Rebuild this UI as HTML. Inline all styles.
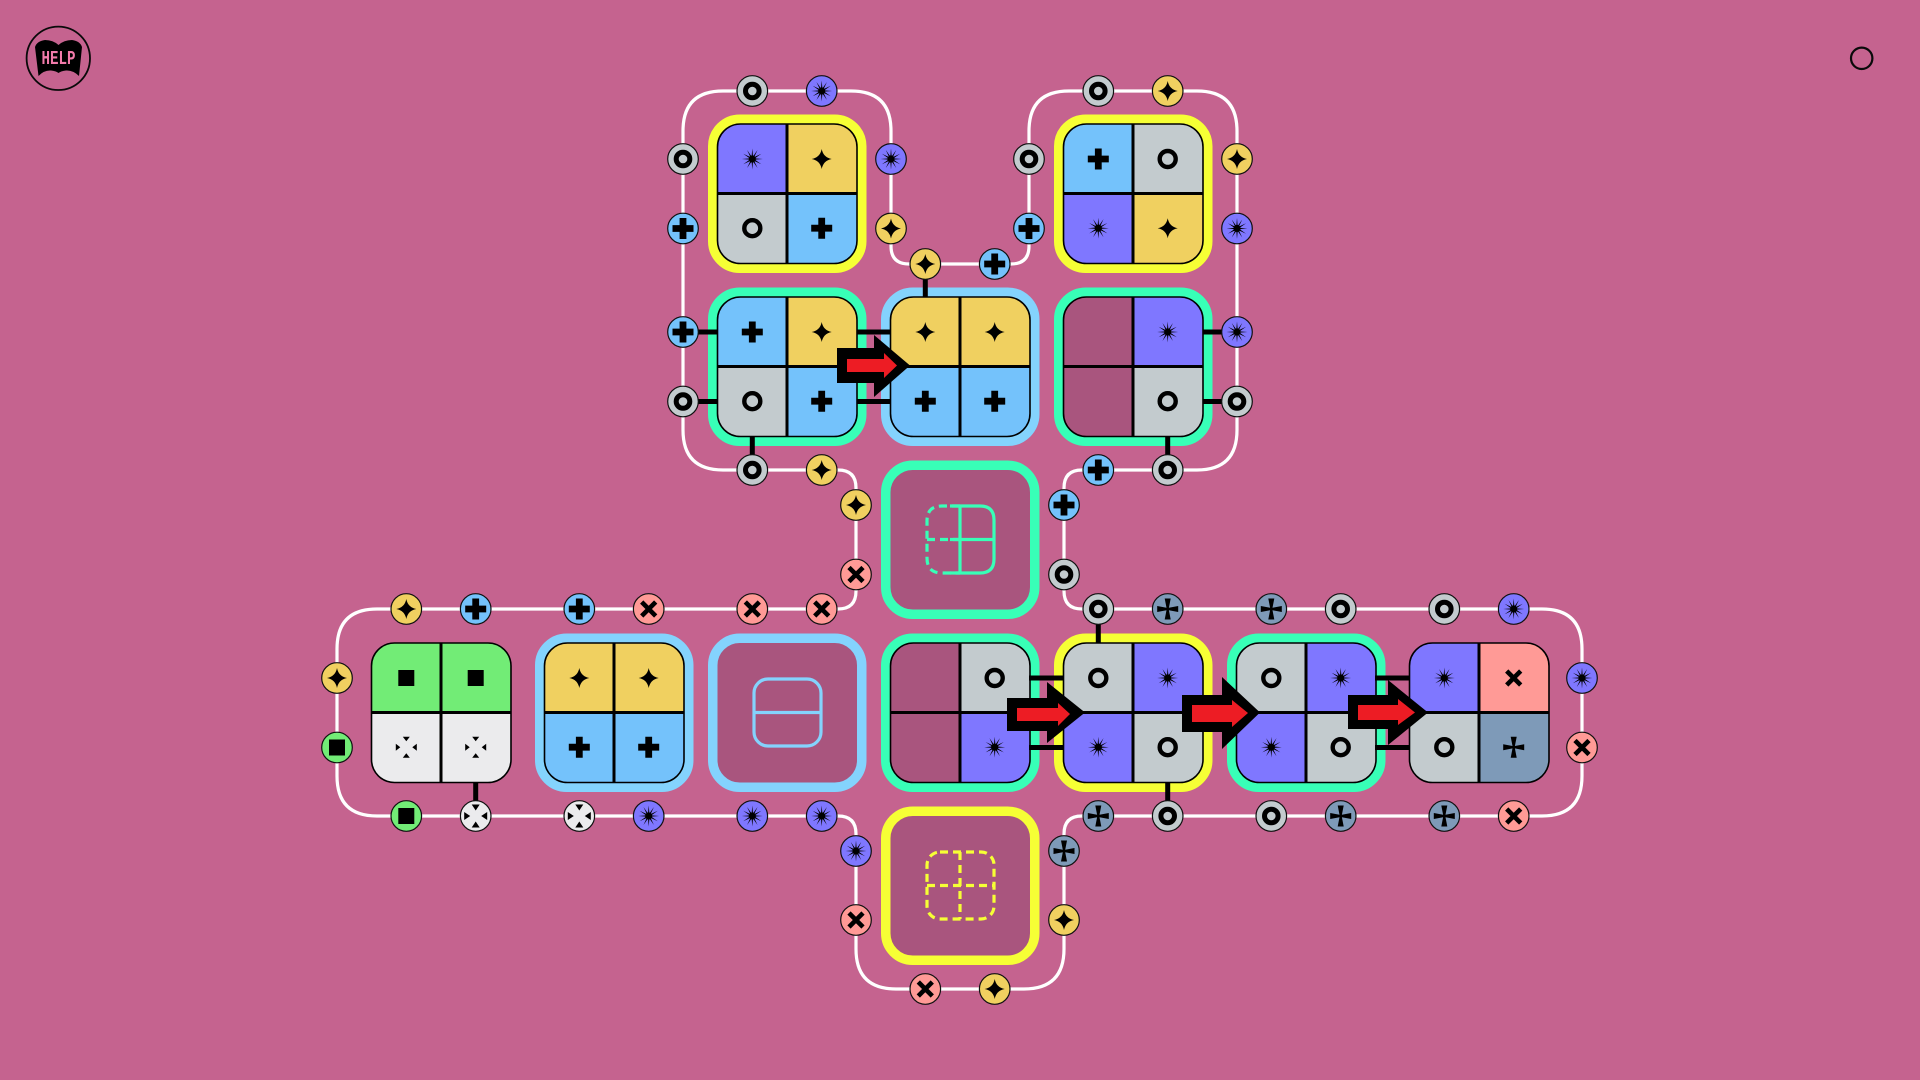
<!DOCTYPE html>
<html><head><meta charset="utf-8"><title>Diagram</title>
<style>html,body{margin:0;padding:0;background:#c5638f;width:1920px;height:1080px;overflow:hidden}svg{display:block}</style></head>
<body>
<svg xmlns="http://www.w3.org/2000/svg" width="1920" height="1080" viewBox="0 0 1920 1080">
<defs>
<clipPath id="c"><rect x="9.5" y="9.5" width="139.5" height="139.5" rx="23"/></clipPath>
<g id="is"><polygon transform="scale(1.1)" points="9.5,0 2.32,.62 8.23,4.75 1.7,1.7 4.75,8.23 .62,2.32 0,9.5 -.62,2.32 -4.75,8.23 -1.7,1.7 -8.23,4.75 -2.32,.62 -9.5,0 -2.32,-.62 -8.23,-4.75 -1.7,-1.7 -4.75,-8.23 -.62,-2.32 0,-9.5 .62,-2.32 4.75,-8.23 1.7,-1.7 8.23,-4.75 2.32,-.62"/><circle r="3.6"/></g>
<path id="id" d="M0-10Q1.600-1.600 10 0Q1.600 1.600 0 10Q-1.600 1.600-10 0Q-1.600-1.600 0-10Z"/>
<circle id="ir" r="8" fill="none" stroke="#000" stroke-width="4.4"/>
<path id="ip" d="M-3.4-10.5H3.4V-3.4H10.5V3.4H3.4V10.5H-3.4V3.4H-10.5V-3.4H-3.4Z"/>
<rect id="iq" x="-8" y="-8" width="16" height="16"/>
<path id="ix" d="M-7-7L7 7M7-7L-7 7" stroke="#000" stroke-width="4.6" fill="none"/>
<path id="ic" d="M1.200-1.200L3-10.5H-3L-1.200-1.200L-10.5-3V3L-1.200 1.200L-3 10.5H3L1.200 1.200L10.5 3V-3Z"/>
<path id="ia" d="M-3.5-10.5H3.5L0-6ZM-3.5 10.5H3.5L0 6ZM-10.5-3.5V3.5L-6 0ZM10.5-3.5V3.5L6 0Z"/>
<path id="ib" d="M-4-11.5H4L0-5.5ZM-4 11.5H4L0 5.5ZM-11.5-4V4L-5.5 0ZM11.5-4V4L5.5 0Z"/>
<g id="ns"><circle r="15.3" fill="#7f77ff" stroke="#111" stroke-width="1.2"/><use href="#is"/></g>
<g id="nd"><circle r="15.3" fill="#f0d060" stroke="#111" stroke-width="1.2"/><use href="#id"/></g>
<g id="nr"><circle r="15.3" fill="#c3cbce" stroke="#111" stroke-width="1.2"/><circle r="6.800" fill="none" stroke="#000" stroke-width="5"/></g>
<g id="np"><circle r="15.3" fill="#74c2fb" stroke="#111" stroke-width="1.2"/><use href="#ip"/></g>
<g id="nq"><circle r="15.3" fill="#72ec76" stroke="#111" stroke-width="1.2"/><use href="#iq"/></g>
<g id="nx"><circle r="15.3" fill="#ff9a96" stroke="#111" stroke-width="1.2"/><use href="#ix"/></g>
<g id="nc"><circle r="15.3" fill="#7e9ab8" stroke="#111" stroke-width="1.2"/><use href="#ic"/></g>
<g id="na"><circle r="15.3" fill="#ebebed" stroke="#111" stroke-width="1.2"/><use href="#ib"/></g>
<g id="grid"><path d="M79 9.5V149M9.5 79H149" stroke="#000" stroke-width="3" fill="none"/><rect x="9.5" y="9.5" width="139.5" height="139.5" rx="23" fill="none" stroke="#000" stroke-width="1.6"/></g>
</defs>
<rect width="1920" height="1080" fill="#c5638f"/>

<!-- help -->
<circle cx="58.3" cy="58.3" r="31.7" fill="none" stroke="#0a0a0a" stroke-width="1.8"/>
<path d="M35 47Q37 41 45 40Q53 40 58.500 45Q64 40 72 40Q80 41 82 47L79 76Q73 70 66 70.500Q61 71 58.500 73Q56 71 51 70.500Q44 70 38.500 76Z" fill="#000"/>
<text x="58.500" y="64" text-anchor="middle" font-family="'Liberation Mono',monospace" font-weight="bold" font-size="19" textLength="34" lengthAdjust="spacingAndGlyphs" fill="#f27bab">HELP</text>
<circle cx="1861.700" cy="58.300" r="10.700" fill="none" stroke="#0a0a0a" stroke-width="2.200"/>

<!-- white loop -->
<path d="M723 91H851Q891 91 891 131V246Q891 264 909 264H1011Q1029 264 1029 246V131Q1029 91 1069 91H1197Q1237 91 1237 131V430Q1237 470 1197 470H1082Q1064 470 1064 488V591Q1064 609 1082 609H1542Q1582 609 1582 649V776Q1582 816 1542 816H1082Q1064 816 1064 834V949Q1064 989 1024 989H896Q856 989 856 949V834Q856 816 838 816H377Q337 816 337 776V649Q337 609 377 609H838Q856 609 856 591V488Q856 470 838 470H723Q683 470 683 430V131Q683 91 723 91Z" fill="none" stroke="#fff" stroke-width="3.200"/>

<!-- tiles -->
<g transform="translate(708,114.500)">
<rect x="4.750" y="4.750" width="149" height="149" rx="27" fill="none" stroke="#f6ff35" stroke-width="9.500"/>
<g clip-path="url(#c)"><rect x="9" y="9" width="70" height="70" fill="#7f77ff"/><rect x="79" y="9" width="71" height="70" fill="#f0d060"/><rect x="9" y="79" width="70" height="71" fill="#c3cbce"/><rect x="79" y="79" width="71" height="71" fill="#74c2fb"/></g>
<use href="#grid"/><use href="#is" x="44.300" y="44.500"/><use href="#id" x="113.700" y="44.500"/><use href="#ir" x="44.300" y="113.700"/><use href="#ip" x="113.700" y="113.700"/>
</g>
<g transform="translate(1054,114.500)">
<rect x="4.750" y="4.750" width="149" height="149" rx="27" fill="none" stroke="#f6ff35" stroke-width="9.500"/>
<g clip-path="url(#c)"><rect x="9" y="9" width="70" height="70" fill="#74c2fb"/><rect x="79" y="9" width="71" height="70" fill="#c3cbce"/><rect x="9" y="79" width="70" height="71" fill="#7f77ff"/><rect x="79" y="79" width="71" height="71" fill="#f0d060"/></g>
<use href="#grid"/><use href="#ip" x="44.300" y="44.500"/><use href="#ir" x="113.700" y="44.500"/><use href="#is" x="44.300" y="113.700"/><use href="#id" x="113.700" y="113.700"/>
</g>
<g transform="translate(708,287.500)">
<rect x="4.750" y="4.750" width="149" height="149" rx="27" fill="none" stroke="#38ffb7" stroke-width="9.500"/>
<g clip-path="url(#c)"><rect x="9" y="9" width="70" height="70" fill="#74c2fb"/><rect x="79" y="9" width="71" height="70" fill="#f0d060"/><rect x="9" y="79" width="70" height="71" fill="#c3cbce"/><rect x="79" y="79" width="71" height="71" fill="#74c2fb"/></g>
<use href="#grid"/><use href="#ip" x="44.300" y="44.500"/><use href="#id" x="113.700" y="44.500"/><use href="#ir" x="44.300" y="113.700"/><use href="#ip" x="113.700" y="113.700"/>
</g>
<g transform="translate(881,287.500)">
<rect x="4.750" y="4.750" width="149" height="149" rx="27" fill="none" stroke="#84d3fd" stroke-width="9.500"/>
<g clip-path="url(#c)"><rect x="9" y="9" width="141" height="70" fill="#f0d060"/><rect x="9" y="79" width="141" height="71" fill="#74c2fb"/></g>
<use href="#grid"/><use href="#id" x="44.300" y="44.500"/><use href="#id" x="113.700" y="44.500"/><use href="#ip" x="44.300" y="113.700"/><use href="#ip" x="113.700" y="113.700"/>
</g>
<g transform="translate(1054,287.500)">
<rect x="4.750" y="4.750" width="149" height="149" rx="27" fill="none" stroke="#38ffb7" stroke-width="9.500"/>
<g clip-path="url(#c)"><rect x="9" y="9" width="70" height="141" fill="#a9557e"/><rect x="79" y="9" width="71" height="70" fill="#7f77ff"/><rect x="79" y="79" width="71" height="71" fill="#c3cbce"/></g>
<use href="#grid"/><use href="#is" x="113.700" y="44.500"/><use href="#ir" x="113.700" y="113.700"/>
</g>
<!-- empty teal -->
<g transform="translate(881,460.500)">
<rect x="4.750" y="4.750" width="149" height="149" rx="27" fill="#a9557e" stroke="#38ffb7" stroke-width="9.500"/>
</g>
<g fill="none" stroke="#38ffb7" stroke-width="3.200">
<path d="M960 506H942Q927 506 927 521V558Q927 573 942 573H960M927 539.500H960" stroke-dasharray="8 5"/>
<path d="M950 506H980Q994 506 994 520V559Q994 573 980 573H950M960 506V573M950 539.500H994"/>
</g>
<!-- row 4 -->
<g transform="translate(362,633.500)">
<g clip-path="url(#c)"><rect x="9" y="9" width="141" height="70" fill="#72ec76"/><rect x="9" y="79" width="141" height="71" fill="#ebebed"/></g>
<use href="#grid"/><use href="#iq" x="44.300" y="44.500"/><use href="#iq" x="113.700" y="44.500"/><use href="#ia" x="44.300" y="113.700"/><use href="#ia" x="113.700" y="113.700"/>
</g>
<g transform="translate(535,633.500)">
<rect x="4.750" y="4.750" width="149" height="149" rx="27" fill="none" stroke="#84d3fd" stroke-width="9.500"/>
<g clip-path="url(#c)"><rect x="9" y="9" width="141" height="70" fill="#f0d060"/><rect x="9" y="79" width="141" height="71" fill="#74c2fb"/></g>
<use href="#grid"/><use href="#id" x="44.300" y="44.500"/><use href="#id" x="113.700" y="44.500"/><use href="#ip" x="44.300" y="113.700"/><use href="#ip" x="113.700" y="113.700"/>
</g>
<g transform="translate(708,633.500)">
<rect x="4.750" y="4.750" width="149" height="149" rx="27" fill="#a9557e" stroke="#84d3fd" stroke-width="9.500"/>
</g>
<g fill="none" stroke="#84d3fd" stroke-width="3.200"><rect x="754" y="679" width="67" height="67" rx="14"/><path d="M754 712.500H821"/></g>
<g transform="translate(881,633.500)">
<rect x="4.750" y="4.750" width="149" height="149" rx="27" fill="none" stroke="#38ffb7" stroke-width="9.500"/>
<g clip-path="url(#c)"><rect x="9" y="9" width="70" height="141" fill="#a9557e"/><rect x="79" y="9" width="71" height="70" fill="#c3cbce"/><rect x="79" y="79" width="71" height="71" fill="#7f77ff"/></g>
<use href="#grid"/><use href="#ir" x="113.700" y="44.500"/><use href="#is" x="113.700" y="113.700"/>
</g>
<g transform="translate(1054,633.500)">
<rect x="4.750" y="4.750" width="149" height="149" rx="27" fill="none" stroke="#f6ff35" stroke-width="9.500"/>
<g clip-path="url(#c)"><rect x="9" y="9" width="70" height="70" fill="#c3cbce"/><rect x="79" y="9" width="71" height="70" fill="#7f77ff"/><rect x="9" y="79" width="70" height="71" fill="#7f77ff"/><rect x="79" y="79" width="71" height="71" fill="#c3cbce"/></g>
<use href="#grid"/><use href="#ir" x="44.300" y="44.500"/><use href="#is" x="113.700" y="44.500"/><use href="#is" x="44.300" y="113.700"/><use href="#ir" x="113.700" y="113.700"/>
</g>
<g transform="translate(1227,633.500)">
<rect x="4.750" y="4.750" width="149" height="149" rx="27" fill="none" stroke="#38ffb7" stroke-width="9.500"/>
<g clip-path="url(#c)"><rect x="9" y="9" width="70" height="70" fill="#c3cbce"/><rect x="79" y="9" width="71" height="70" fill="#7f77ff"/><rect x="9" y="79" width="70" height="71" fill="#7f77ff"/><rect x="79" y="79" width="71" height="71" fill="#c3cbce"/></g>
<use href="#grid"/><use href="#ir" x="44.300" y="44.500"/><use href="#is" x="113.700" y="44.500"/><use href="#is" x="44.300" y="113.700"/><use href="#ir" x="113.700" y="113.700"/>
</g>
<g transform="translate(1400,633.500)">
<g clip-path="url(#c)"><rect x="9" y="9" width="70" height="70" fill="#7f77ff"/><rect x="79" y="9" width="71" height="70" fill="#ff9a96"/><rect x="9" y="79" width="70" height="71" fill="#c3cbce"/><rect x="79" y="79" width="71" height="71" fill="#7e9ab8"/></g>
<use href="#grid"/><use href="#is" x="44.300" y="44.500"/><use href="#ix" x="113.700" y="44.500"/><use href="#ir" x="44.300" y="113.700"/><use href="#ic" x="113.700" y="113.700"/>
</g>
<!-- empty yellow -->
<g transform="translate(881,806.500)">
<rect x="4.750" y="4.750" width="149" height="149" rx="27" fill="#a9557e" stroke="#f6ff35" stroke-width="9.500"/>
</g>
<g fill="none" stroke="#f6ff35" stroke-width="3.200" stroke-dasharray="8 5"><rect x="927" y="852" width="67" height="67" rx="13"/><path d="M927 885.500H994M960 852V919"/></g>

<!-- stubs -->
<path d="M925.300 264V297M683 332H718M683 401.500H718M857 332H891M857 401.500H891M752.300 436V470M1203 332H1237M1203 401.500H1237M1167.700 436V470M475.700 782V816M1098.300 609V643M1167.700 782V816M1029 678H1064M1029 747.500H1064M1375 678H1410M1375 747.500H1410" stroke="#000" stroke-width="5" fill="none"/>

<!-- nodes -->
<use href="#nr" x="752.300" y="91"/><use href="#ns" x="821.700" y="91"/>
<use href="#nr" x="683" y="159"/><use href="#np" x="683" y="228.500"/>
<use href="#ns" x="891" y="159"/><use href="#nd" x="891" y="228.500"/>
<use href="#nd" x="925.300" y="264"/><use href="#np" x="994.700" y="264"/>
<use href="#nr" x="1029" y="159"/><use href="#np" x="1029" y="228.500"/>
<use href="#nr" x="1098.300" y="91"/><use href="#nd" x="1167.700" y="91"/>
<use href="#nd" x="1237" y="159"/><use href="#ns" x="1237" y="228.500"/>
<use href="#np" x="683" y="332"/><use href="#nr" x="683" y="401.500"/>
<use href="#ns" x="1237" y="332"/><use href="#nr" x="1237" y="401.500"/>
<use href="#nr" x="752.300" y="470"/><use href="#nd" x="821.700" y="470"/>
<use href="#np" x="1098.300" y="470"/><use href="#nr" x="1167.700" y="470"/>
<use href="#nd" x="856" y="505"/><use href="#nx" x="856" y="574.500"/>
<use href="#np" x="1064" y="505"/><use href="#nr" x="1064" y="574.500"/>
<use href="#nd" x="406.300" y="609"/><use href="#np" x="475.700" y="609"/>
<use href="#np" x="579.300" y="609"/><use href="#nx" x="648.700" y="609"/>
<use href="#nx" x="752.300" y="609"/><use href="#nx" x="821.700" y="609"/>
<use href="#nr" x="1098.300" y="609"/><use href="#nc" x="1167.700" y="609"/>
<use href="#nc" x="1271.300" y="609"/><use href="#nr" x="1340.700" y="609"/>
<use href="#nr" x="1444.300" y="609"/><use href="#ns" x="1513.700" y="609"/>
<use href="#nd" x="337" y="678"/><use href="#nq" x="337" y="747.500"/>
<use href="#ns" x="1582" y="678"/><use href="#nx" x="1582" y="747.500"/>
<use href="#nq" x="406.300" y="816"/><use href="#na" x="475.700" y="816"/>
<use href="#na" x="579.300" y="816"/><use href="#ns" x="648.700" y="816"/>
<use href="#ns" x="752.300" y="816"/><use href="#ns" x="821.700" y="816"/>
<use href="#nc" x="1098.300" y="816"/><use href="#nr" x="1167.700" y="816"/>
<use href="#nr" x="1271.300" y="816"/><use href="#nc" x="1340.700" y="816"/>
<use href="#nc" x="1444.300" y="816"/><use href="#nx" x="1513.700" y="816"/>
<use href="#ns" x="856" y="851"/><use href="#nx" x="856" y="920"/>
<use href="#nc" x="1064" y="851"/><use href="#nd" x="1064" y="920"/>
<use href="#nx" x="925.300" y="989"/><use href="#nd" x="994.700" y="989"/>

<!-- arrows -->
<polygon points="837,348 874,348 874,335 910,365.500 874,397 874,383 837,383" fill="#000"/>
<polygon points="847,359 884,359 884,353 897,365.500 884,378 884,372 847,372" fill="#ed1c24"/>
<polygon points="1007,698 1047,698 1047,682 1085,712.500 1047,743 1047,731 1007,731" fill="#000"/>
<polygon points="1017,708 1058,708 1058,703 1070,714 1058,726 1058,721 1017,721" fill="#ed1c24"/>
<polygon points="1182,695 1222,695 1222,677 1260,712.500 1222,749 1222,732 1182,732" fill="#000"/>
<polygon points="1192,705 1232,705 1232,700 1248,713 1232,727 1232,722 1192,722" fill="#ed1c24"/>
<polygon points="1348,695 1388,695 1388,680 1428,712.500 1388,745 1388,729 1348,729" fill="#000"/>
<polygon points="1358,705 1398,705 1398,699 1415,712.500 1398,725 1398,720 1358,720" fill="#ed1c24"/>
</svg>
</body></html>
